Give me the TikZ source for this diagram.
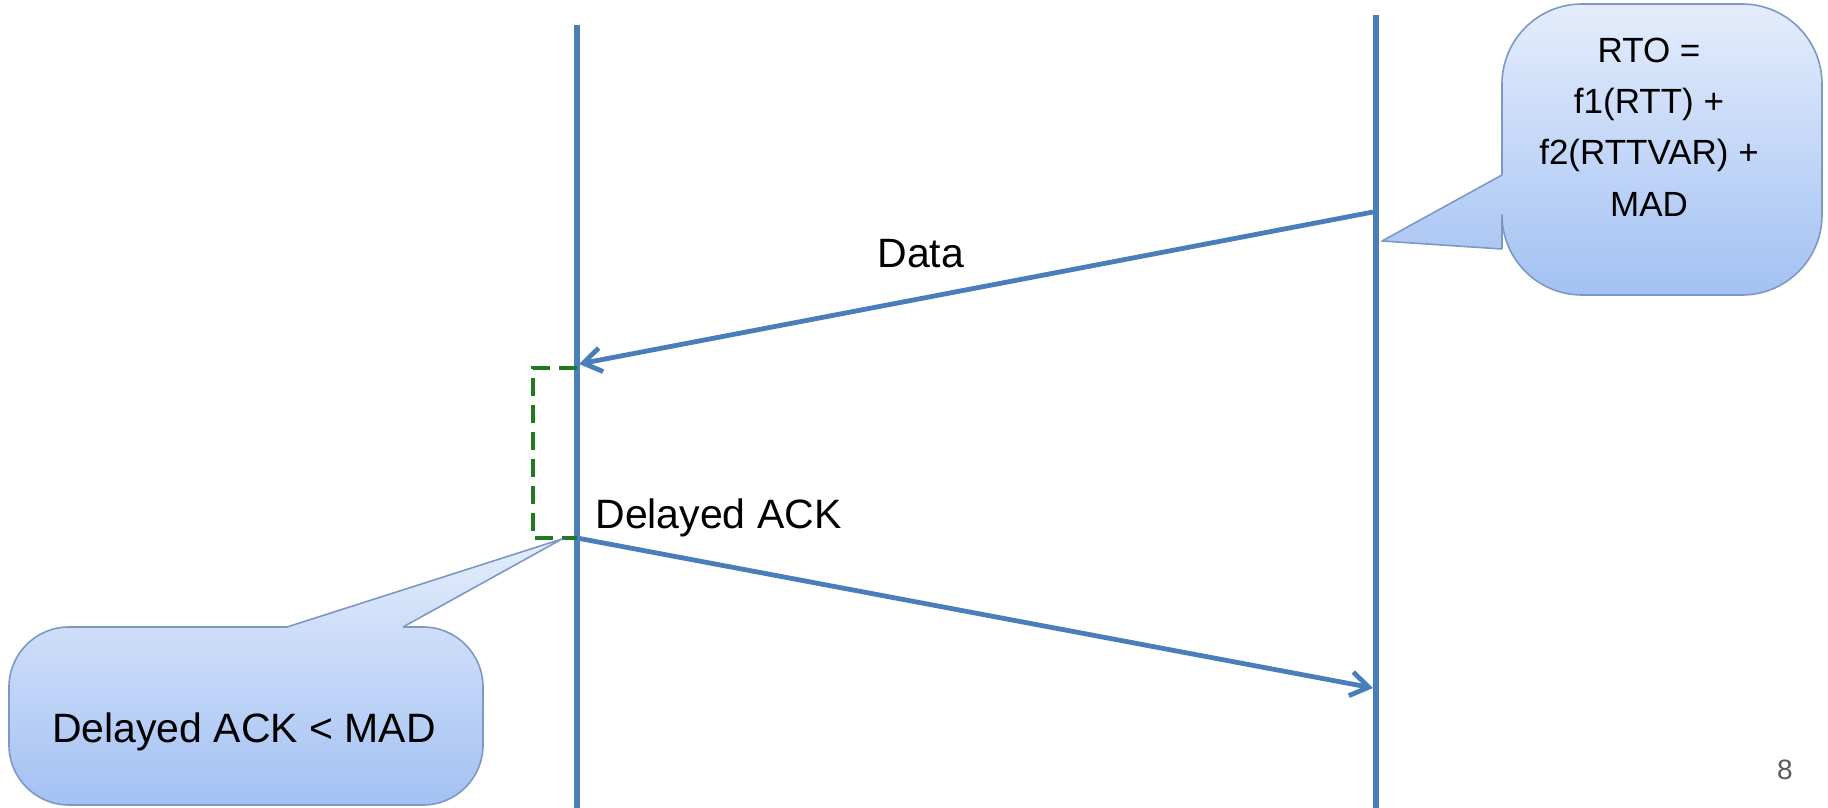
\documentclass[tikz,border=0pt]{standalone}
\usepackage{fontspec}
\setmainfont{Liberation Sans}
\usetikzlibrary{arrows.meta,positioning}
\definecolor{lineblue}{HTML}{4A7EBB}
\definecolor{waitgreen}{HTML}{217A21}
\definecolor{calloutedge}{HTML}{7D98C3}
\definecolor{callouttop}{HTML}{E4EDFC}
\definecolor{calloutbottom}{HTML}{A3C1F3}
\definecolor{pagegray}{HTML}{595959}

\begin{document}
\begin{tikzpicture}[x=0.5pt,y=-0.5pt,
        lifeline/.style={draw=lineblue,line width=3pt},
        message/.style={draw=lineblue,line width=2.4pt,-{Straight Barb[length=9pt,width=12pt]}},
        waitline/.style={draw=waitgreen,line width=2.4pt,dash pattern=on 9pt off 4.5pt}]
      \tikzstyle{msgtext} = [font=\fontsize{20.5}{24}\selectfont,inner sep=0pt,anchor=base west]
      \tikzstyle{calloutfill} = [top color=callouttop,bottom color=calloutbottom]
      \tikzstyle{calloutline} = [draw=calloutedge,line width=0.8pt,line join=round]
      \useasboundingbox (0,0) rectangle (1828,808);
      \coordinate (clientTop) at (577,25);
      \coordinate (clientBot) at (577,808);
      \coordinate (serverTop) at (1376,15);
      \coordinate (serverBot) at (1376,808);
      \coordinate (dataOut) at (1373,212);
      \coordinate (dataIn) at (579,364);
      \coordinate (ackOut) at (577,538);
      \coordinate (ackIn) at (1373,688);
      \coordinate (waitTop) at (577,368);
      \coordinate (waitLeft) at (533,368);
      \draw[lifeline] (clientTop) -- (clientBot);
      \draw[lifeline] (serverTop) -- (serverBot);
      \draw[message] (dataOut) -- (dataIn);
      \draw[message] (ackOut) -- (ackIn);
      \draw[waitline] (waitTop) -- (waitLeft) |- (ackOut);
      \node (data) [msgtext] at (877,267) {Data};
      \node (delayed) [msgtext] at (595,528) {Delayed ACK};
      \shade[calloutfill] (1502,175) -- (1382,241) -- (1502,249) -- cycle
        [rounded corners=40] (1502,4) rectangle (1822,295);
      \draw[calloutline,rounded corners=40] (1502,249) -- (1502,295) -- (1822,295)
        -- (1822,4) -- (1502,4) -- (1502,175);
      \draw[calloutline] (1502,175) -- (1382,241) -- (1502,249);
      \node (rto) [align=center,font=\fontsize{17.5}{25.7}\selectfont] at (1649,127)
        {RTO =\\f1(RTT) +\\f2(RTTVAR) +\\MAD};
      \shade[calloutfill] (287,627) -- (562,539) -- (403,627) -- cycle
        [rounded corners=30] (9,627) rectangle (483,805);
      \draw[calloutline,rounded corners=30] (403,627) -- (483,627) -- (483,805)
        -- (9,805) -- (9,627) -- (287,627);
      \draw[calloutline] (287,627) -- (562,539) -- (403,627);
      \node (rule) [font=\fontsize{20.5}{24}\selectfont] at (244,732) {Delayed ACK < MAD};
      \node (page) [font=\fontsize{14}{16}\selectfont,text=pagegray] at (1785,770) {8};
    \end{tikzpicture}
\end{document}
